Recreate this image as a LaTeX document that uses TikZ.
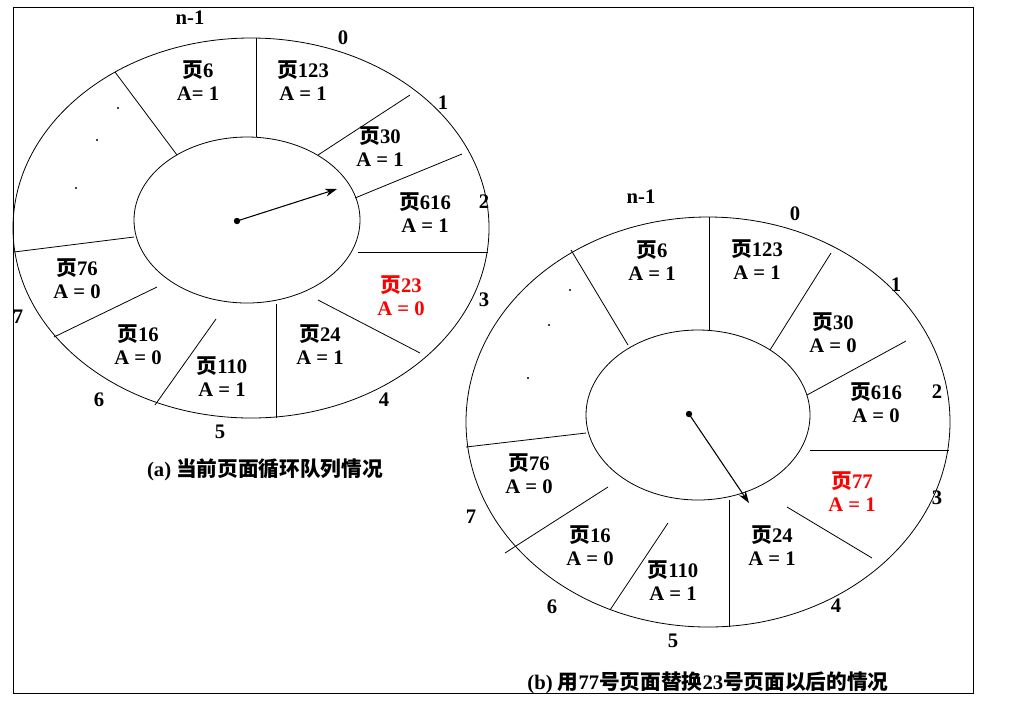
\documentclass[tikz,border=0pt]{standalone}
\usepackage{fontspec}
\setmainfont{Liberation Serif}
\newfontfamily\cjk{Noto Sans CJK SC}
\usetikzlibrary{arrows.meta}
\begin{document}
\begin{tikzpicture}[x=0.75pt,y=-0.75pt,
  lab/.style={font=\fontsize{15.5}{17}\selectfont\bfseries, inner sep=0pt},
  num/.style={font=\fontsize{15.5}{17}\selectfont\bfseries, inner sep=0pt},
  ln/.style={line width=0.6pt},
  arr/.style={line width=0.8pt,-{Stealth[length=9pt,width=6pt]}},
  red/.style={text=red}]
\useasboundingbox (0,0) rectangle (1013,726);
\draw[line width=0.6pt] (13,7) rectangle (973,693);
% ---------- left ----------
\draw[ln] (251,228) ellipse [x radius=238, y radius=190];
\draw[ln] (247,220) ellipse [x radius=113, y radius=83];
\foreach \a/\b in {{256,38}/{256,137},{115,72}/{177,155},{410,95}/{318,155},{462,154}/{355,198},{488,252}/{358,252},{420,353}/{318,300},{276,418}/{276,304},{155,405}/{216,319},{54,337}/{157,287},{14,252}/{134,237}}
  \draw[ln] (\a) -- (\b);
\coordinate (lc) at (237,221); \coordinate (lh) at (337,189);
\fill (lc) circle (3.2);
\draw[arr] (lc) -- (lh);
\foreach \p/\t in {{190,18}/n-1,{343,38}/0,{443,103}/1,{484,202}/2,{484,300}/3,{384,400}/4,{220,432}/5,{99,400}/6,{18,317}/7}
  \node[num] at (\p) {\t};
\foreach \p in {{118,108},{97,140},{76,188}} \fill (\p) circle (1.2);
\foreach \x/\y/\n/\v/\s in {198/70/6/A= 1/,303/70/123/A = 1/,380/136/30/A = 1/,425/202/616/A = 1/,401/285/23/A = 0/red,320/334/24/A = 1/,222/366/110/A = 1/,138/334/16/A = 0/,77/268/76/A = 0/}{
  \node[lab,\s] at (\x,\y) {{\cjk 页}\n};
  \node[lab,\s] at (\x,\y+24) {\v};}
\node[lab] at (265,470) {(a) {\cjk 当前页面循环队列情况}};
% ---------- right ----------
\draw[ln] (708,422) ellipse [x radius=242, y radius=205];
\draw[ln] (698,415) ellipse [x radius=112, y radius=85];
\foreach \a/\b in {{709,217}/{709,330},{571,250}/{628,345},{831,253}/{770,350},{906,341}/{807,395},{949,450}/{810,450},{872,558}/{787,507},{729,627}/{729,500},{610,610}/{668,523},{505,553}/{608,487},{466,447}/{586,433}}
  \draw[ln] (\a) -- (\b);
\coordinate (rc) at (689,414); \coordinate (rh) at (749,503);
\fill (rc) circle (3.2);
\draw[arr] (rc) -- (rh);
\foreach \p/\t in {{641,197}/n-1,{795,214}/0,{896,285}/1,{937,392}/2,{937,498}/3,{836,606}/4,{673,641}/5,{552,607}/6,{471,517}/7}
  \node[num] at (\p) {\t};
\foreach \p in {{570,290},{549,325},{528,378}} \fill (\p) circle (1.2);
\foreach \x/\y/\n/\v/\s in {652/250/6/A = 1/,757/249/123/A = 1/,833/322/30/A = 0/,876/392/616/A = 0/,852/481/77/A = 1/red,772/535/24/A = 1/,673/570/110/A = 1/,590/535/16/A = 0/,529/463/76/A = 0/}{
  \node[lab,\s] at (\x,\y) {{\cjk 页}\n};
  \node[lab,\s] at (\x,\y+24) {\v};}
\node[lab] at (708,683) {(b) {\cjk 用}77{\cjk 号页面替换}23{\cjk 号页面以后的情况}};
\end{tikzpicture}
\end{document}
